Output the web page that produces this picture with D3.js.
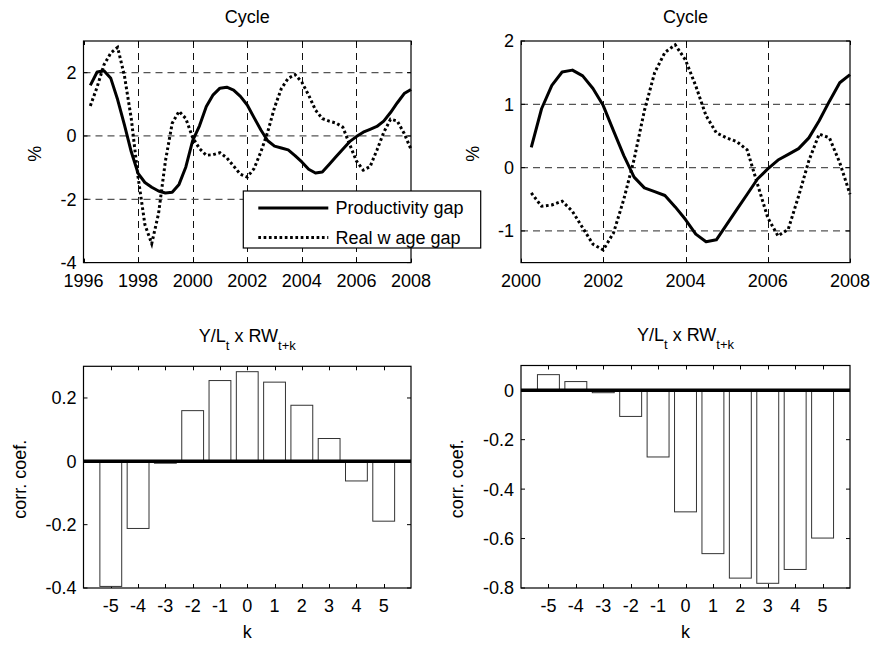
<!DOCTYPE html>
<html>
<head>
<meta charset="utf-8">
<script src="https://cdn.jsdelivr.net/npm/d3@7"></script>
<style>
  html, body { margin: 0; padding: 0; background: #fff; }
  svg { display: block; font-family: "Liberation Sans", Arial, sans-serif; }
</style>
</head>
<body>
<svg id="fig" width="876" height="645"></svg>
<script>
// Quarterly observations, 1996Q1 .. 2007Q4 (plotted at the quarter's end)
const quarters = d3.range(48).map(i => 1996.25 + i / 4);

const productivityGap = [
   1.60,  2.02,  2.06,  1.82,  1.15,  0.35, -0.50, -1.18,
  -1.47, -1.62, -1.74, -1.80, -1.78, -1.53, -0.98, -0.15,
   0.32,  0.93,  1.30,  1.51,  1.54,  1.45,  1.25,  0.98,
   0.58,  0.19, -0.15, -0.32, -0.38, -0.44, -0.62, -0.82,
  -1.05, -1.17, -1.14, -0.90, -0.66, -0.42, -0.18, -0.02,
   0.12,  0.21,  0.30,  0.47,  0.74,  1.05,  1.34,  1.47
];

const realWageGap = [
   0.95,  1.55,  2.25,  2.62,  2.80,  1.90,  0.55, -1.30,
  -2.80, -3.40, -2.45, -0.80,  0.40,  0.78,  0.55, -0.05,
  -0.40, -0.61, -0.59, -0.53, -0.69, -0.95, -1.21, -1.30,
  -1.03, -0.50,  0.13,  0.90,  1.50,  1.82,  1.94,  1.70,
   1.29,  0.82,  0.55,  0.47,  0.41,  0.28, -0.26, -0.79,
  -1.08, -0.97, -0.45,  0.11,  0.53,  0.47,  0.08, -0.42
];

// Lead/lag correlations of productivity with real wages
const lags = [-5, -4, -3, -2, -1, 0, 1, 2, 3, 4, 5];
const corrFullSample = [-0.395, -0.212, -0.006, 0.160, 0.255, 0.283, 0.250, 0.177, 0.072, -0.062, -0.189];
const corrRecentSample = [0.063, 0.035, -0.010, -0.106, -0.270, -0.492, -0.661, -0.760, -0.781, -0.725, -0.598];

// Axis ticks
const yearTicksFull = [1996, 1998, 2000, 2002, 2004, 2006, 2008];
const yearTicksRecent = [2000, 2002, 2004, 2006, 2008];
const cycleTicksFull = [-4, -2, 0, 2];
const cycleTicksRecent = [-1, 0, 1, 2];
const corrTicksFull = [-0.4, -0.2, 0, 0.2];
const corrTicksRecent = [-0.8, -0.6, -0.4, -0.2, 0];

const svg = d3.select("#fig");
const FONT = 18;
const fmt = v => String(v);

function frame(g, box, xs, ys, xTicks, yTicks, opts) {
  const { grid } = opts;
  // grid lines
  if (grid) {
    g.append("g").selectAll("line").data(xTicks.filter(t => xs(t) > box.x0 + 1 && xs(t) < box.x1 - 1))
      .join("line")
      .attr("x1", d => Math.round(xs(d)) + 0.5).attr("x2", d => Math.round(xs(d)) + 0.5)
      .attr("y1", box.y0).attr("y2", box.y1)
      .attr("stroke", "#111").attr("stroke-width", 1).attr("stroke-dasharray", "7,5");
    g.append("g").selectAll("line").data(yTicks.filter(t => ys(t) > box.y0 + 1 && ys(t) < box.y1 - 1))
      .join("line")
      .attr("x1", box.x0).attr("x2", box.x1)
      .attr("y1", d => ys(d)).attr("y2", d => ys(d))
      .attr("stroke", "#555").attr("stroke-width", 1.2).attr("stroke-dasharray", "7,5");
  }
  // inward ticks on all four sides
  const tl = 4;
  const tg = g.append("g").attr("stroke", "#000").attr("stroke-width", 1);
  xTicks.forEach(t => {
    const x = Math.round(xs(t)) + 0.5;
    tg.append("line").attr("x1", x).attr("x2", x).attr("y1", box.y1).attr("y2", box.y1 - tl);
    tg.append("line").attr("x1", x).attr("x2", x).attr("y1", box.y0).attr("y2", box.y0 + tl);
  });
  yTicks.forEach(t => {
    const y = ys(t);
    tg.append("line").attr("x1", box.x0).attr("x2", box.x0 + tl).attr("y1", y).attr("y2", y);
    tg.append("line").attr("x1", box.x1).attr("x2", box.x1 - tl).attr("y1", y).attr("y2", y);
  });
  // tick labels
  g.append("g").selectAll("text").data(xTicks).join("text")
    .attr("x", d => xs(d)).attr("y", box.y1 + 24)
    .attr("text-anchor", "middle").attr("font-size", FONT).attr("fill", "#000")
    .text(fmt);
  g.append("g").selectAll("text").data(yTicks).join("text")
    .attr("x", box.x0 - 7).attr("y", d => ys(d)).attr("dy", "0.36em")
    .attr("text-anchor", "end").attr("font-size", FONT).attr("fill", "#000")
    .text(fmt);
}

function border(g, box) {
  g.append("rect")
    .attr("x", box.x0).attr("y", box.y0)
    .attr("width", box.x1 - box.x0).attr("height", box.y1 - box.y0)
    .attr("fill", "none").attr("stroke", "#000").attr("stroke-width", 1.2);
}

function yLabel(g, box, text, offset, shift) {
  const cy = (box.y0 + box.y1) / 2 + (shift || 0);
  const x = box.x0 - offset;
  g.append("text")
    .attr("transform", `translate(${x},${cy}) rotate(-90)`)
    .attr("text-anchor", "middle").attr("font-size", FONT).attr("fill", "#000")
    .text(text);
}

function cyclePanel(box, xDomain, yDomain, xTicks, yTicks, keep) {
  const g = svg.append("g");
  const xs = d3.scaleLinear().domain(xDomain).range([box.x0, box.x1]);
  const ys = d3.scaleLinear().domain(yDomain).range([box.y1, box.y0]);
  g.append("rect").attr("x", box.x0).attr("y", box.y0)
    .attr("width", box.x1 - box.x0).attr("height", box.y1 - box.y0).attr("fill", "#fff");
  frame(g, box, xs, ys, xTicks, yTicks, { grid: true });

  const idx = quarters.map((q, i) => i).filter(i => keep(quarters[i]));
  const line = d3.line().x(i => xs(quarters[i]));

  g.append("path")
    .attr("d", line.y(i => ys(productivityGap[i]))(idx))
    .attr("fill", "none").attr("stroke", "#000").attr("stroke-width", 3)
    .attr("stroke-linejoin", "round");
  g.append("path")
    .attr("d", line.y(i => ys(realWageGap[i]))(idx))
    .attr("fill", "none").attr("stroke", "#000").attr("stroke-width", 3)
    .attr("stroke-dasharray", "2.7,2.6");

  border(g, box);
  g.append("text")
    .attr("x", (box.x0 + box.x1) / 2).attr("y", box.y0 - 18)
    .attr("text-anchor", "middle").attr("font-size", FONT).attr("fill", "#000")
    .text("Cycle");
  yLabel(g, box, "%", 42.5, 2);
  return g;
}

function corrPanel(box, yDomain, yTicks, values) {
  const g = svg.append("g");
  const xs = d3.scaleLinear().domain([-6, 6]).range([box.x0, box.x1]);
  const ys = d3.scaleLinear().domain(yDomain).range([box.y1, box.y0]);
  frame(g, box, xs, ys, lags, yTicks, { grid: false });

  const half = 0.4;
  g.append("g").selectAll("rect").data(lags).join("rect")
    .attr("x", (d) => xs(d - half))
    .attr("width", (d) => xs(d + half) - xs(d - half))
    .attr("y", (d, i) => ys(Math.max(0, values[i])))
    .attr("height", (d, i) => Math.abs(ys(values[i]) - ys(0)))
    .attr("fill", "#fff").attr("stroke", "#333").attr("stroke-width", 1);

  // bar baseline
  g.append("line")
    .attr("x1", box.x0).attr("x2", box.x1)
    .attr("y1", ys(0)).attr("y2", ys(0))
    .attr("stroke", "#000").attr("stroke-width", 3.5);

  border(g, box);

  // title with subscripts
  const t = g.append("text")
    .attr("x", (box.x0 + box.x1) / 2).attr("y", box.y0 - 24.5)
    .attr("text-anchor", "middle").attr("font-size", FONT).attr("fill", "#000");
  t.append("tspan").text("Y/L");
  t.append("tspan").attr("font-size", 13).attr("dy", 8).text("t");
  t.append("tspan").attr("dy", -8).text(" x RW");
  t.append("tspan").attr("font-size", 13).attr("dy", 8).text("t+k");

  g.append("text")
    .attr("x", (box.x0 + box.x1) / 2).attr("y", box.y1 + 50)
    .attr("text-anchor", "middle").attr("font-size", FONT).attr("fill", "#000")
    .text("k");
  yLabel(g, box, "corr. coef.", 57.7, 2);
  return g;
}

const boxTL = { x0: 83.5, x1: 411, y0: 41, y1: 262.6 };
const boxTR = { x0: 521, x1: 850, y0: 41, y1: 262.6 };
const boxBL = { x0: 83.5, x1: 411, y0: 366.3, y1: 588 };
const boxBR = { x0: 521, x1: 850, y0: 365.5, y1: 588 };

cyclePanel(boxTL, [1996, 2008], [-4, 3], yearTicksFull, cycleTicksFull, q => true);
cyclePanel(boxTR, [2000, 2008], [-1.5, 2], yearTicksRecent, cycleTicksRecent, q => q > 2000);
corrPanel(boxBL, [-0.4, 0.3], corrTicksFull, corrFullSample);
corrPanel(boxBR, [-0.8, 0.1], corrTicksRecent, corrRecentSample);

// Legend of the cycle panels
const legend = svg.append("g");
const lg = { x0: 243.3, x1: 480.7, y0: 191, y1: 248 };
legend.append("rect")
  .attr("x", lg.x0).attr("y", lg.y0)
  .attr("width", lg.x1 - lg.x0).attr("height", lg.y1 - lg.y0)
  .attr("fill", "#fff").attr("stroke", "#000").attr("stroke-width", 1.2);
const entries = [
  { label: "Productivity gap", dash: null, y: 208 },
  { label: "Real w age gap", dash: "2.7,2.6", y: 237.5 }
];
entries.forEach(e => {
  const ln = legend.append("line")
    .attr("x1", 258.3).attr("x2", 328.3).attr("y1", e.y).attr("y2", e.y)
    .attr("stroke", "#000").attr("stroke-width", 3);
  if (e.dash) ln.attr("stroke-dasharray", e.dash);
  legend.append("text")
    .attr("x", 335.5).attr("y", e.y + 6)
    .attr("font-size", FONT).attr("fill", "#000")
    .text(e.label);
});
</script>
</body>
</html>
